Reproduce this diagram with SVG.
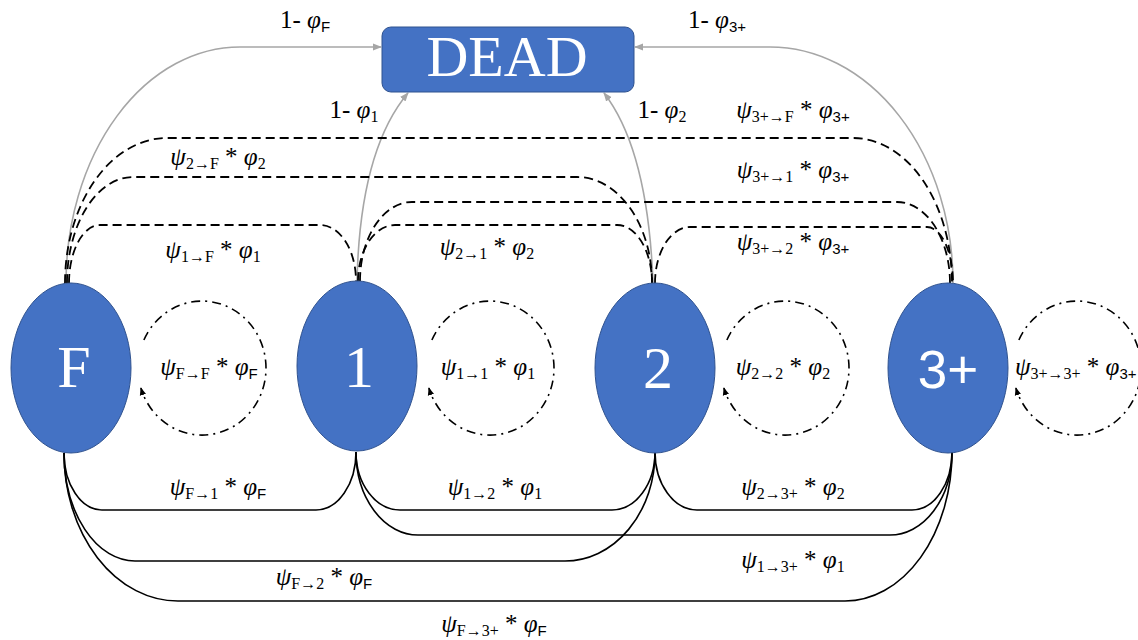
<svg xmlns="http://www.w3.org/2000/svg" width="1138" height="640" viewBox="0 0 1138 640">
<style>
.node{fill:#4472C4;stroke:#2F528F;stroke-width:1}
.ntxt{fill:#fff;font-family:"Liberation Serif",serif;text-anchor:middle}
.gray{fill:none;stroke:#A6A6A6;stroke-width:1.6}
.dash{fill:none;stroke:#000;stroke-width:1.8;stroke-dasharray:9 5}
.solid{fill:none;stroke:#000;stroke-width:1.6}
.loop{fill:none;stroke:#000;stroke-width:1.6;stroke-dasharray:9 5 2 5}
.lbl{font-family:"Liberation Serif",serif;font-size:25px;fill:#000;text-anchor:middle}
.st{text-anchor:start}
.g{font-style:italic}
.s{font-size:16px}
.ss{font-size:15px;font-family:"Liberation Sans",sans-serif}
</style>
<defs>
<marker id="ag" viewBox="0 0 10 10" refX="9" refY="5" markerWidth="9" markerHeight="9" markerUnits="userSpaceOnUse" orient="auto"><path d="M0,1 L10,5 L0,9 Z" fill="#A6A6A6"/></marker>
<marker id="ab" viewBox="0 0 10 10" refX="9" refY="5" markerWidth="8" markerHeight="8" markerUnits="userSpaceOnUse" orient="auto"><path d="M0,1 L10,5 L0,9 Z" fill="#000"/></marker>
</defs>
<g id="connectors">
<path class="gray" marker-end="url(#ag)" d="M66 283 A174 236 0 0 1 240 47 L381 47"/>
<path class="gray" marker-end="url(#ag)" d="M953 283 A183 236 0 0 0 770 47 L635 47"/>
<path class="gray" marker-end="url(#ag)" d="M357 281 Q360 150 408 93"/>
<path class="gray" marker-end="url(#ag)" d="M653 283 Q648 150 604 93"/>
<path class="dash" d="M65 283 A102 145 0 0 1 167 138 L853 138 A99 145 0 0 1 952 283"/>
<path class="dash" d="M67 283 A66 106 0 0 1 133 177 L577 177 A75 106 0 0 1 652 283"/>
<path class="dash" d="M69 283 A31 58 0 0 1 100 225 L320 225 A36 56 0 0 1 356 281"/>
<path class="dash" d="M360 281 A52 79 0 0 1 412 202 L897 202 A53 81 0 0 1 950 283"/>
<path class="dash" d="M358 281 A37 56 0 0 1 395 225 L617 225 A35 58 0 0 1 652 283"/>
<path class="dash" d="M655 283 A35 56 0 0 1 690 227 L927 227 A26 56 0 0 1 953 283"/>
<path class="solid" d="M64 453 A38 57 0 0 0 102 510 L316 510 A40 58 0 0 0 356 452"/>
<path class="solid" d="M356 452 A44 58 0 0 0 400 510 L612 510 A43 58 0 0 0 655 452"/>
<path class="solid" d="M655 452 A42 58 0 0 0 697 510 L912 510 A40 58 0 0 0 952 452"/>
<path class="solid" d="M356 452 A62 83 0 0 0 418 535 L890 535 A62 83 0 0 0 952 452"/>
<path class="solid" d="M64 453 A71 108 0 0 0 135 561 L565 561 A90 108 0 0 0 655 453"/>
<path class="solid" d="M64 453 A114 148 0 0 0 178 601 L845 601 A107 149 0 0 0 952 452"/>
<path class="loop" marker-end="url(#ab)" d="M143.9 340 A64 67 0 1 1 140.9 388"/>
<path class="loop" marker-end="url(#ab)" d="M431.9 340 A64 67 0 1 1 428.9 388"/>
<path class="loop" marker-end="url(#ab)" d="M726.9 340 A64 67 0 1 1 723.9 388"/>
<path class="loop" marker-end="url(#ab)" d="M1018.9 340 A64 67 0 1 1 1015.9 388"/>
</g>
<g id="labels">
<text class="lbl" x="305" y="28">1- <tspan class="g">φ</tspan><tspan class="ss" dy="4">F</tspan></text>
<text class="lbl" x="717" y="28">1- <tspan class="g">φ</tspan><tspan class="ss" dy="4">3+</tspan></text>
<text class="lbl" x="354" y="118">1- <tspan class="g">φ</tspan><tspan class="s" dy="4">1</tspan></text>
<text class="lbl" x="662" y="118">1- <tspan class="g">φ</tspan><tspan class="s" dy="4">2</tspan></text>
<text class="lbl" x="793" y="118"><tspan class="g">ψ</tspan><tspan class="s" dy="4">3+→F</tspan><tspan dy="-4"> * </tspan><tspan class="g">φ</tspan><tspan class="ss" dy="4">3+</tspan></text>
<text class="lbl" x="793" y="178"><tspan class="g">ψ</tspan><tspan class="s" dy="4">3+→1</tspan><tspan dy="-4"> * </tspan><tspan class="g">φ</tspan><tspan class="ss" dy="4">3+</tspan></text>
<text class="lbl" x="793" y="250"><tspan class="g">ψ</tspan><tspan class="s" dy="4">3+→2</tspan><tspan dy="-4"> * </tspan><tspan class="g">φ</tspan><tspan class="ss" dy="4">3+</tspan></text>
<text class="lbl" x="218" y="165"><tspan class="g">ψ</tspan><tspan class="s" dy="4">2→F</tspan><tspan dy="-4"> * </tspan><tspan class="g">φ</tspan><tspan class="s" dy="4">2</tspan></text>
<text class="lbl" x="213" y="258"><tspan class="g">ψ</tspan><tspan class="s" dy="4">1→F</tspan><tspan dy="-4"> * </tspan><tspan class="g">φ</tspan><tspan class="s" dy="4">1</tspan></text>
<text class="lbl" x="487" y="255"><tspan class="g">ψ</tspan><tspan class="s" dy="4">2→1</tspan><tspan dy="-4"> * </tspan><tspan class="g">φ</tspan><tspan class="s" dy="4">2</tspan></text>
<text class="lbl" x="209" y="375"><tspan class="g">ψ</tspan><tspan class="s" dy="4">F→F</tspan><tspan dy="-4"> * </tspan><tspan class="g">φ</tspan><tspan class="ss" dy="4">F</tspan></text>
<text class="lbl" x="488" y="375"><tspan class="g">ψ</tspan><tspan class="s" dy="4">1→1</tspan><tspan dy="-4"> * </tspan><tspan class="g">φ</tspan><tspan class="s" dy="4">1</tspan></text>
<text class="lbl" x="783" y="375"><tspan class="g">ψ</tspan><tspan class="s" dy="4">2→2</tspan><tspan dy="-4"> * </tspan><tspan class="g">φ</tspan><tspan class="s" dy="4">2</tspan></text>
<text class="lbl st" x="1015" y="375"><tspan class="g">ψ</tspan><tspan class="s" dy="4">3+→3+</tspan><tspan dy="-4"> * </tspan><tspan class="g">φ</tspan><tspan class="ss" dy="4">3+</tspan></text>
<text class="lbl" x="218" y="495"><tspan class="g">ψ</tspan><tspan class="s" dy="4">F→1</tspan><tspan dy="-4"> * </tspan><tspan class="g">φ</tspan><tspan class="ss" dy="4">F</tspan></text>
<text class="lbl" x="495" y="495"><tspan class="g">ψ</tspan><tspan class="s" dy="4">1→2</tspan><tspan dy="-4"> * </tspan><tspan class="g">φ</tspan><tspan class="s" dy="4">1</tspan></text>
<text class="lbl" x="793" y="495"><tspan class="g">ψ</tspan><tspan class="s" dy="4">2→3+</tspan><tspan dy="-4"> * </tspan><tspan class="g">φ</tspan><tspan class="s" dy="4">2</tspan></text>
<text class="lbl" x="793" y="568"><tspan class="g">ψ</tspan><tspan class="s" dy="4">1→3+</tspan><tspan dy="-4"> * </tspan><tspan class="g">φ</tspan><tspan class="s" dy="4">1</tspan></text>
<text class="lbl" x="324" y="585"><tspan class="g">ψ</tspan><tspan class="s" dy="4">F→2</tspan><tspan dy="-4"> * </tspan><tspan class="g">φ</tspan><tspan class="ss" dy="4">F</tspan></text>
<text class="lbl" x="494" y="632"><tspan class="g">ψ</tspan><tspan class="s" dy="4">F→3+</tspan><tspan dy="-4"> * </tspan><tspan class="g">φ</tspan><tspan class="ss" dy="4">F</tspan></text>
</g>
<g id="node-dead">
<rect class="node" x="382" y="27" width="252" height="65" rx="9"/>
<text class="ntxt" x="507" y="76" font-size="58">DEAD</text>
</g>
<g id="node-F">
<ellipse class="node" cx="71" cy="368" rx="60" ry="85"/>
<text class="ntxt" x="74" y="387" font-size="60">F</text>
</g>
<g id="node-1">
<ellipse class="node" cx="357" cy="366" rx="60" ry="85"/>
<text class="ntxt" x="359" y="387" font-size="60">1</text>
</g>
<g id="node-2">
<ellipse class="node" cx="655" cy="368" rx="60" ry="85"/>
<text class="ntxt" x="658" y="388" font-size="60">2</text>
</g>
<g id="node-3plus">
<ellipse class="node" cx="948" cy="368" rx="60" ry="85"/>
<text class="ntxt" x="948" y="388" font-size="53" style="font-family:'Liberation Sans',sans-serif">3+</text>
</g>
</svg>
